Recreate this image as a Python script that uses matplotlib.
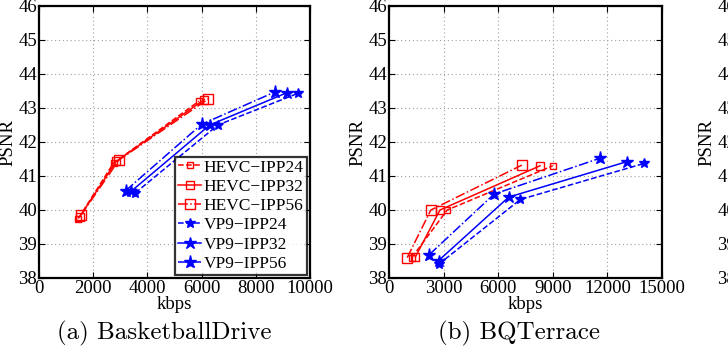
"""
RD curves: PSNR vs bitrate for HEVC and VP9 (IPP GOP 24/32/56)
Panels: (a) BasketballDrive, (b) BQTerrace, third panel cut at the right edge.
"""
import matplotlib as mpl
import matplotlib.pyplot as plt

mpl.rcParams["font.family"] = "serif"
mpl.rcParams["font.serif"] = ["Liberation Serif", "DejaVu Serif"]
mpl.rcParams["axes.unicode_minus"] = True

# --------------------------------------------------------------------
# DATA
# --------------------------------------------------------------------
SERIES = ["IPP24", "IPP32", "IPP56"]

# (a) BasketballDrive
BD_HEVC24_KBPS = [1450, 2750, 5900]
BD_HEVC24_PSNR = [39.75, 41.38, 43.20]
BD_HEVC32_KBPS = [1500, 2850, 6100]
BD_HEVC32_PSNR = [39.80, 41.43, 43.25]
BD_HEVC56_KBPS = [1550, 2950, 6250]
BD_HEVC56_PSNR = [39.85, 41.47, 43.27]
BD_VP924_KBPS = [3550, 6600, 9550]
BD_VP924_PSNR = [40.50, 42.50, 43.43]
BD_VP932_KBPS = [3400, 6300, 9150]
BD_VP932_PSNR = [40.55, 42.50, 43.45]
BD_VP956_KBPS = [3200, 6000, 8700]
BD_VP956_PSNR = [40.57, 42.52, 43.47]

# (b) BQTerrace
BQ_HEVC24_KBPS = [1250, 3200, 9000]
BQ_HEVC24_PSNR = [38.60, 40.00, 41.30]
BQ_HEVC32_KBPS = [1450, 2800, 8300]
BQ_HEVC32_PSNR = [38.62, 40.00, 41.30]
BQ_HEVC56_KBPS = [1000, 2300, 7300]
BQ_HEVC56_PSNR = [38.60, 40.00, 41.32]
BQ_VP924_KBPS = [2720, 7220, 14020]
BQ_VP924_PSNR = [38.40, 40.31, 41.37]
BQ_VP932_KBPS = [2720, 6580, 13060]
BQ_VP932_PSNR = [38.51, 40.38, 41.42]
BQ_VP956_KBPS = [2220, 5780, 11580]
BQ_VP956_PSNR = [38.69, 40.47, 41.52]

Y_TICKS = [38, 39, 40, 41, 42, 43, 44, 45, 46]
BD_X_TICKS = [0, 2000, 4000, 6000, 8000, 10000]
BQ_X_TICKS = [0, 3000, 6000, 9000, 12000, 15000]

# --------------------------------------------------------------------
# STYLE
# --------------------------------------------------------------------
RED = "#ff0000"
BLUE = "#0000ff"
LS = {"IPP24": "--", "IPP32": "-", "IPP56": "-."}
MS_SQ = {"IPP24": 5, "IPP32": 6, "IPP56": 6.5}
MS_ST = {"IPP24": 7, "IPP32": 9, "IPP56": 9.5}
FS = 13.5

W, H = 728, 351


def px_rect(left, top, width, height):
    return [left / W, 1 - (top + height) / H, width / W, height / H]


def style_axes(ax, xticks, xmax):
    ax.set_xlim(0, xmax)
    ax.set_ylim(38, 46)
    ax.set_xticks(xticks)
    ax.set_yticks(Y_TICKS)
    ax.tick_params(direction="in", length=4, width=0.8, top=True, right=True,
                   labelsize=FS, pad=1.5)
    ax.grid(True, linestyle=(0, (1, 2.5)), color="#a0a0a0", linewidth=0.8)
    ax.set_axisbelow(True)
    for sp in ax.spines.values():
        sp.set_linewidth(1.6)
    ax.set_xlabel("kbps", fontsize=FS, labelpad=-1)
    ax.set_ylabel("PSNR", fontsize=FS, labelpad=1)


def plot_codec(ax, data, color, marker, codec):
    sizes = MS_SQ if marker == "s" else MS_ST
    for name, (x, y) in zip(SERIES, data):
        ax.plot(x, y, linestyle=LS[name], color=color, linewidth=1.1,
                marker=marker, markersize=sizes[name],
                markerfacecolor="none" if marker == "s" else color,
                markeredgecolor=color, markeredgewidth=1.0,
                label=f"{codec}\u2212{name}")


fig = plt.figure(figsize=(W / 100, H / 100), dpi=100)

ax_a = fig.add_axes(px_rect(39, 6, 271, 272))
plot_codec(ax_a, [(BD_HEVC24_KBPS, BD_HEVC24_PSNR),
                  (BD_HEVC32_KBPS, BD_HEVC32_PSNR),
                  (BD_HEVC56_KBPS, BD_HEVC56_PSNR)], RED, "s", "HEVC")
plot_codec(ax_a, [(BD_VP924_KBPS, BD_VP924_PSNR),
                  (BD_VP932_KBPS, BD_VP932_PSNR),
                  (BD_VP956_KBPS, BD_VP956_PSNR)], BLUE, "*", "VP9")
style_axes(ax_a, BD_X_TICKS, 10000)
leg = ax_a.legend(loc="lower right", fontsize=12.5, frameon=True, fancybox=False,
                  borderpad=0.15, labelspacing=0.18, handlelength=1.35,
                  handletextpad=0.15, borderaxespad=0.2)
leg.get_frame().set_edgecolor("black")
leg.get_frame().set_linewidth(1.6)

ax_b = fig.add_axes(px_rect(389, 6, 273, 272))
plot_codec(ax_b, [(BQ_HEVC24_KBPS, BQ_HEVC24_PSNR),
                  (BQ_HEVC32_KBPS, BQ_HEVC32_PSNR),
                  (BQ_HEVC56_KBPS, BQ_HEVC56_PSNR)], RED, "s", "HEVC")
plot_codec(ax_b, [(BQ_VP924_KBPS, BQ_VP924_PSNR),
                  (BQ_VP932_KBPS, BQ_VP932_PSNR),
                  (BQ_VP956_KBPS, BQ_VP956_PSNR)], BLUE, "*", "VP9")
style_axes(ax_b, BQ_X_TICKS, 15000)

# third panel, only its y-axis labels reach into the frame
ax_c = fig.add_axes(px_rect(738, 6, 273, 272))
style_axes(ax_c, BD_X_TICKS, 10000)

cap_y = 1 - 333 / H
fig.text((39 + 271 / 2 - 10) / W, cap_y, "(a) BasketballDrive",
         family="cmr10", fontsize=18, ha="center", va="center")
fig.text((389 + 273 / 2 - 6) / W, cap_y, "(b) BQTerrace",
         family="cmr10", fontsize=18, ha="center", va="center")

fig.savefig("out.png", dpi=100, facecolor="white")
